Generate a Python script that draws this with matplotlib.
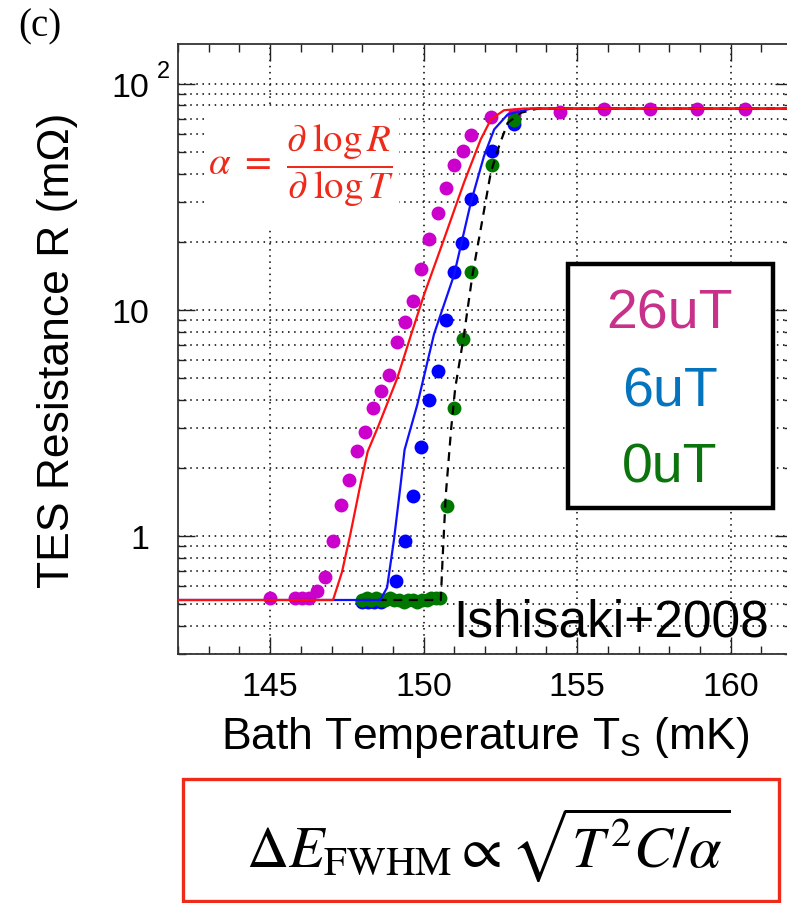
import numpy as np
import matplotlib
matplotlib.use('Agg')
import matplotlib.pyplot as plt
from matplotlib.patches import Rectangle
from matplotlib.ticker import MultipleLocator, LogLocator, NullFormatter, FixedLocator, FixedFormatter

plt.rcParams['font.family'] = ['Liberation Sans', 'DejaVu Sans']
plt.rcParams['mathtext.fontset'] = 'custom'
plt.rcParams['mathtext.rm'] = 'Liberation Sans'
plt.rcParams['mathtext.it'] = 'Liberation Sans:italic'

## data (T in mK, R in mOhm)
t_26uT = [145.0, 145.8, 146.03, 146.28, 146.53, 146.8, 147.05, 147.3, 147.56, 147.82, 148.08,
          148.34, 148.6, 148.87, 149.12, 149.4, 149.66, 149.92, 150.19, 150.46, 150.73, 151.0,
          151.27, 151.55, 152.21, 152.94, 154.43, 155.88, 157.36, 158.89, 160.46]
r_26uT = [0.53, 0.53, 0.53, 0.53, 0.57, 0.66, 0.95, 1.37, 1.77, 2.38, 2.89,
          3.69, 4.36, 5.13, 7.2, 8.85, 10.9, 15.1, 20.5, 26.7, 34.6, 43.6,
          50.2, 59.3, 70.8, 72.5, 74.5, 77.4, 77.4, 77.4, 77.4]

t_6uT = [148.0, 148.2, 148.4, 148.6, 149.1, 149.38, 149.65, 149.92, 150.19, 150.46, 150.72,
         150.99, 151.26, 151.55, 152.24, 152.96]
r_6uT = [0.51, 0.51, 0.51, 0.51, 0.63, 0.95, 1.5, 2.48, 3.97, 5.37, 9.0,
         14.6, 19.7, 31.0, 50.2, 66.2]

t_0uT = [148.0, 148.15, 148.3, 148.45, 148.6, 148.75, 148.9, 149.05, 149.2, 149.35, 149.5,
         149.65, 149.8, 149.95, 150.1, 150.25, 150.4, 150.55, 150.75, 151.0, 151.27, 151.55,
         152.22, 152.95]
r_0uT = [0.52, 0.53, 0.52, 0.53, 0.52, 0.52, 0.53, 0.52, 0.52, 0.51, 0.52,
         0.52, 0.51, 0.52, 0.52, 0.53, 0.53, 0.53, 1.35, 3.68, 7.4, 14.6,
         43.8, 68.7]

# model curves (vertices)
t_fit26 = [142.0, 147.05, 147.34, 147.61, 147.94, 148.18, 148.54, 149.14, 149.6, 150.01,
           150.67, 151.32, 151.86, 152.19, 152.62, 153.28, 162.0]
r_fit26 = [0.52, 0.52, 0.69, 1.01, 1.68, 2.36, 3.09, 4.97, 7.8, 11.6,
           20.6, 36.6, 56.6, 69.3, 76.2, 77.5, 77.5]

t_fit6 = [142.0, 148.59, 148.81, 149.03, 149.25, 149.38, 149.79, 150.34, 150.99, 151.54,
          151.97, 152.30, 152.74, 153.5, 162.0]
r_fit6 = [0.52, 0.52, 0.59, 0.95, 1.68, 2.4, 3.78, 7.8, 14.2, 29.8,
          47.9, 62.7, 73.0, 77.5, 77.5]

t_fit0 = [148.0, 150.56, 150.62, 150.72, 150.9, 151.03, 151.3, 151.59, 151.86, 152.19,
          152.46, 152.74, 153.18, 153.72, 162.0]
r_fit0 = [0.52, 0.52, 0.8, 1.5, 3.0, 4.5, 7.5, 14.2, 22.7, 40.5,
          53.0, 67.1, 74.3, 77.5, 77.5]

legend_labels = ['26uT', '6uT', '0uT']
legend_colors = ['#C8318A', '#0574BE', '#0C740C']

W, H = 787, 904
fig = plt.figure(figsize=(W / 100, H / 100), dpi=100)
fig.patch.set_facecolor('white')
ax = fig.add_axes([178 / W, 1 - 655 / H, 614 / W, (655 - 44.7) / H])

ax.set_yscale('log')
ax.set_xlim(142, 162)
ax.set_ylim(0.3, 150)

## points
ax.plot(t_26uT, r_26uT, 'o', color='#CC00CC', ms=10, mec='none', zorder=2.2)
ax.plot(t_6uT, r_6uT, 'o', color='#0000FF', ms=10, mec='none', zorder=2.3)
ax.plot(t_0uT, r_0uT, 'o', color='#007800', ms=10, mec='none', zorder=2.4)

## curves
ax.plot(t_fit0, r_fit0, color='k', lw=1.6, ls=(0, (4, 3)), zorder=3)
ax.plot(t_fit6, r_fit6, color='#1010FF', lw=1.6, zorder=3.1)
ax.plot(t_fit26, r_fit26, color='#FF1010', lw=1.6, zorder=3.2)

## axes style
ax.xaxis.set_major_locator(MultipleLocator(5))
ax.xaxis.set_minor_locator(MultipleLocator(1))
ax.yaxis.set_major_locator(FixedLocator([1, 10, 100]))
ax.yaxis.set_major_formatter(FixedFormatter(['1', '10', '10']))
ax.yaxis.set_minor_locator(LogLocator(base=10, subs=np.arange(2, 10)))
ax.yaxis.set_minor_formatter(NullFormatter())
ax.tick_params(which='both', direction='in', top=True, right=True, width=1.0, color='#222222')
ax.tick_params(which='major', length=12)
ax.tick_params(which='minor', length=6)
ax.tick_params(axis='x', labelsize=24.5, pad=12)
ax.tick_params(axis='y', labelsize=24.5, pad=21)
for s in ax.spines.values():
    s.set_linewidth(1.3)
    s.set_color('#333333')

ax.xaxis.grid(True, which='major', ls=(0, (1, 3)), color='k', lw=1.1)
ax.yaxis.grid(True, which='both', ls=(0, (1, 3)), color='k', lw=1.1)

# superscript of the top tick label (10^2)
ax.annotate('2', xy=(0, 100), xycoords=('axes fraction', 'data'), xytext=(-14.5, 13),
            textcoords='offset pixels', ha='center', va='center', fontsize=17)

ax.set_ylabel('TES Resistance R (m\u03a9)', fontsize=32)
ax.yaxis.set_label_coords(-(178 - 78) / 614, 0.5)
ax.set_xlabel(r'Bath Temperature T$_{\mathrm{S}}$ (mK)', fontsize=32)
ax.xaxis.set_label_coords(0.5, -0.098)

## alpha definition with white backing
ax.add_patch(Rectangle((0.042, 0.696), 0.318, 0.2, transform=ax.transAxes,
                       facecolor='white', edgecolor='none', zorder=1.8))
fig.text(301 / W, 1 - 166 / H, r'$\alpha\ =\ \dfrac{\partial\;\mathrm{log}\,R}{\partial\;\mathrm{log}\,T}$',
         math_fontfamily='stix', color='#EE2A1B', fontsize=28, ha='center', va='center')

## legend box
ax.add_patch(Rectangle((0.635, 0.239), 0.334, 0.4, transform=ax.transAxes,
                       facecolor='white', edgecolor='black', lw=3.2, zorder=6))
for lab, col, yb in zip(legend_labels, legend_colors, [0.535, 0.407, 0.283]):
    ax.text(0.801, yb, lab, transform=ax.transAxes, color=col, fontsize=40,
            ha='center', va='baseline', zorder=7)

ax.text(0.449, 0.0295, 'Ishisaki+2008', transform=ax.transAxes, fontsize=37,
        ha='left', va='baseline', zorder=7)

fig.text(18 / W, 1 - 8 / H, '(c)', family='Liberation Serif', fontsize=28, ha='left', va='top')

## energy resolution box
fig.add_artist(Rectangle((183 / W, 1 - 902 / H), (779 - 183) / W, (902 - 780) / H,
                         transform=fig.transFigure, facecolor='none', edgecolor='#EE2A1B', lw=2.4))
fig.text(488 / W, 1 - 845 / H, r'$\Delta E_{\rm FWHM} \propto \sqrt{T^2 C/\alpha}$',
         math_fontfamily='stix', fontsize=42, ha='center', va='center')

fig.savefig('out.png', dpi=100)
